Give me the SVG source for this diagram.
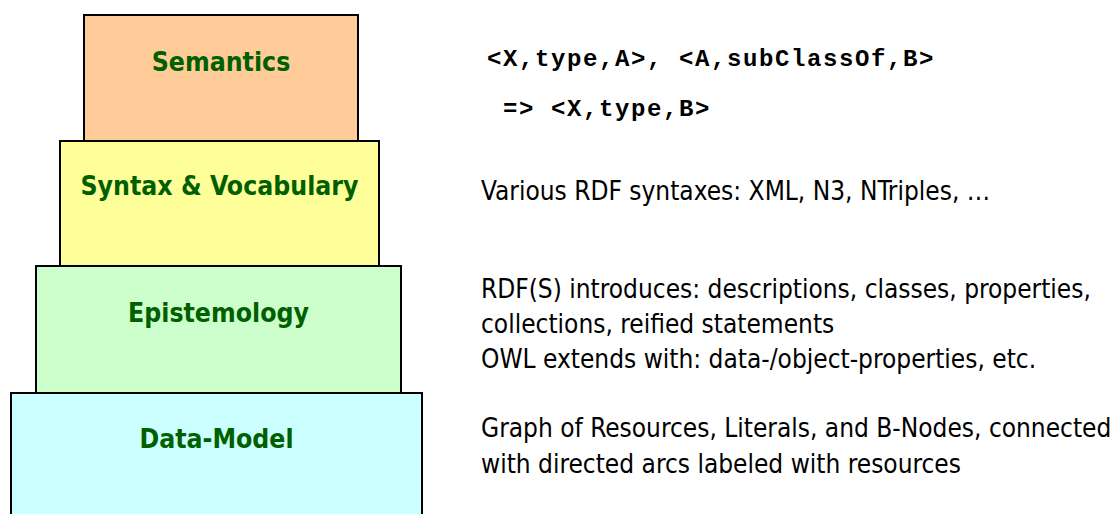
<svg xmlns="http://www.w3.org/2000/svg" width="1120" height="514" viewBox="0 0 1120 514">
  <style>
    .layer { stroke: #000; stroke-width: 2; }
    .label { font-family: "DejaVu Sans Condensed", "DejaVu Sans", sans-serif; font-stretch: condensed; font-weight: bold; font-size: 26.4px; fill: #006000; text-anchor: middle; }
    .code { font-family: "Liberation Mono", "Courier New", monospace; font-weight: bold; font-size: 24px; letter-spacing: 1.6px; fill: #000; }
    .note { font-family: "DejaVu Sans Condensed", "DejaVu Sans", sans-serif; font-stretch: condensed; font-size: 26px; fill: #000; }
  </style>
  <rect width="1120" height="514" fill="#fff"/>

  <!-- stacked layers, top to bottom -->
  <g id="semantics">
    <rect class="layer" x="84" y="15" width="274" height="140" fill="#FFCC99"/>
    <text class="label" x="221" y="71">Semantics</text>
  </g>
  <g id="syntax">
    <rect class="layer" x="60" y="141" width="319" height="140" fill="#FFFF99"/>
    <text class="label" x="219.5" y="195">Syntax &amp; Vocabulary</text>
  </g>
  <g id="epistemology">
    <rect class="layer" x="36" y="266" width="365" height="140" fill="#CCFFCC"/>
    <text class="label" x="218.5" y="322">Epistemology</text>
  </g>
  <g id="data-model">
    <rect class="layer" x="11" y="393" width="411" height="140" fill="#CCFFFF"/>
    <text class="label" x="216.5" y="448">Data-Model</text>
  </g>

  <g id="connectors"/>

  <!-- descriptions beside each layer -->
  <g id="semantics-note">
    <text class="code" x="487" y="66">&lt;X,type,A&gt;, &lt;A,subClassOf,B&gt;</text>
    <text class="code" x="503" y="116">=&gt; &lt;X,type,B&gt;</text>
  </g>
  <g id="syntax-note">
    <text class="note" x="481" y="200">Various RDF syntaxes: XML, N3, NTriples, …</text>
  </g>
  <g id="epistemology-note">
    <text class="note" x="481" y="298">RDF(S) introduces: descriptions, classes, properties,</text>
    <text class="note" x="481" y="333">collections, reified statements</text>
    <text class="note" x="481" y="368">OWL extends with: data-/object-properties, etc.</text>
  </g>
  <g id="data-model-note">
    <text class="note" x="481" y="437">Graph of Resources, Literals, and B-Nodes, connected</text>
    <text class="note" x="481" y="473">with directed arcs labeled with resources</text>
  </g>
</svg>
